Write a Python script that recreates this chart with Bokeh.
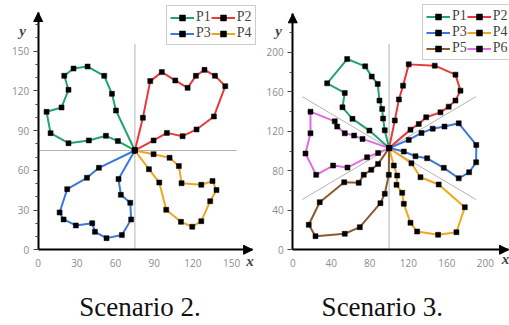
from bokeh.plotting import figure
from bokeh.models import Range1d, Legend, LegendItem, Label, Arrow, NormalHead, FixedTicker
from bokeh.layouts import row
from bokeh.embed import file_html
from bokeh.resources import INLINE

# ---------------- Scenario 2 data ----------------
s2_center = (75, 75)
s2_p1_x = [61.8, 52.5, 39.3, 23.5, 9.6, 6.5, 18.1, 23.5, 20.2, 27.4, 38.3, 51.2, 57.2, 60.3]
s2_p1_y = [82.1, 86.1, 82.6, 80.5, 88.1, 104.2, 107.5, 120.8, 131.4, 136.9, 138.4, 131.4, 117.8, 105.2]
s2_p2_x = [81.2, 86.9, 95.9, 106.3, 115.9, 122.3, 129.0, 137.1, 145.1, 136.3, 122.8, 112.0, 99.8, 89.5]
s2_p2_y = [99.7, 127.4, 134.2, 127.9, 122.3, 131.4, 135.9, 131.4, 123.6, 100.7, 90.9, 85.8, 88.3, 82.6]
s2_p3_x = [47.1, 37.8, 22.5, 16.6, 19.7, 29.2, 41.9, 44.0, 53.0, 64.9, 72.1, 71.4, 64.1, 62.3]
s2_p3_y = [61.9, 54.4, 45.8, 28.2, 22.9, 18.4, 20.1, 13.6, 8.8, 11.1, 22.9, 35.5, 41.5, 53.4]
s2_p4_x = [89.5, 101.9, 109.1, 111.2, 126.5, 135.2, 138.3, 133.4, 126.5, 119.5, 110.7, 99.3, 93.9, 85.9]
s2_p4_y = [72.2, 69.5, 63.2, 50.3, 49.1, 51.9, 45.1, 36.7, 21.6, 17.4, 21.1, 30.2, 50.8, 60.9]
s2_ref_x = [[75, 75], [0, 154]]
s2_ref_y = [[0, 155.5], [75, 75]]
s2_xticks = [0, 30, 60, 90, 120, 150]
s2_yticks = [0, 30, 60, 90, 120, 150]
s2_yminor = [10, 20, 40, 50, 70, 80, 100, 110, 130, 140, 160, 170]

# ---------------- Scenario 3 data ----------------
s3_center = (100, 103)
s3_p1_x = [79.6, 62.0, 51.6, 54.0, 35.7, 56.5, 75.2, 82.0, 88.2, 90.0, 92.8, 93.8, 95.5]
s3_p1_y = [120.7, 132.6, 144.3, 158.9, 168.6, 193.2, 185.8, 175.4, 168.0, 151.1, 142.7, 132.9, 121.0]
s3_p2_x = [105.9, 110.2, 114.5, 120.4, 147.4, 168.9, 174.1, 168.9, 161.9, 153.3, 138.5, 130.8, 122.2]
s3_p2_y = [131.0, 152.3, 166.2, 187.8, 186.5, 177.4, 161.2, 151.1, 145.0, 139.2, 134.2, 127.5, 121.7]
s3_p3_x = [115.3, 127.4, 139.5, 156.8, 172.3, 183.1, 190.4, 190.5, 172.3, 157.5, 145.3, 133.6, 120.4]
s3_p3_y = [99.5, 94.7, 92.7, 83.0, 72.4, 78.5, 88.6, 106.2, 128.1, 124.8, 122.7, 118.3, 111.3]
s3_p4_x = [104.9, 108.4, 107.7, 113.6, 115.3, 122.2, 129.1, 150.9, 169.9, 178.6, 151.5, 132.6, 123.2]
s3_p4_y = [85.3, 75.2, 65.8, 57.7, 46.5, 27.3, 18.5, 15.2, 17.8, 43.1, 66.1, 73.5, 87.6]
s3_p5_x = [88.6, 81.5, 73.7, 68.5, 53.4, 28.0, 16.6, 23.6, 54.0, 69.6, 91.0, 95.5, 99.7]
s3_p5_y = [87.0, 81.0, 76.0, 67.8, 68.4, 48.2, 25.3, 13.8, 16.2, 22.9, 47.2, 56.7, 75.9]
s3_p6_x = [72.4, 63.7, 54.0, 46.1, 43.6, 18.4, 18.4, 13.2, 24.3, 41.9, 56.8, 77.2, 88.6]
s3_p6_y = [112.3, 115.7, 118.0, 124.8, 130.1, 139.9, 118.0, 97.5, 75.9, 85.3, 83.3, 93.7, 98.1]
s3_ref_x = [[100, 100], [10, 190], [10, 190]]
s3_ref_y = [[0, 208.5], [155, 51], [51, 155]]
s3_xticks = [0, 40, 80, 120, 160, 200]
s3_yticks = [0, 40, 80, 120, 160, 200]
s3_yminor = [20, 60, 100, 140, 180, 220]

names = ["P1", "P2", "P3", "P4", "P5", "P6"]
colors = ["#23a46e", "#e83a3a", "#3a78dc", "#f0a51e", "#8b5a2e", "#e46ae4"]

TICK_FONT = "Open Sans"
SERIF = "Liberation Serif"
H = 325


def panel(width, xr, yr, tips, xticks, yticks, yminor, series, center, ref_x, ref_y,
          legend_loc, ylab_pos, xlab_pos, cap_pos, caption):
    p = figure(width=width, height=H, x_range=Range1d(*xr), y_range=Range1d(*yr),
               output_backend="svg", toolbar_location=None,
               min_border_left=0, min_border_right=0, min_border_top=0, min_border_bottom=0)
    p.grid.visible = False
    p.outline_line_color = None
    p.xaxis.ticker = FixedTicker(ticks=xticks)
    p.yaxis.ticker = FixedTicker(ticks=yticks, minor_ticks=yminor)
    p.xaxis.fixed_location = 0
    p.yaxis.fixed_location = 0
    p.xaxis.bounds = (0, tips[0])
    p.yaxis.bounds = (0, tips[1])
    for ax in (p.xaxis[0], p.yaxis[0]):
        ax.axis_line_width = 2
        ax.axis_line_color = "black"
        ax.major_tick_line_color = "#444444"
        ax.minor_tick_line_color = "#444444"
        ax.major_tick_in = 0
        ax.minor_tick_in = 0
        ax.major_label_text_font = TICK_FONT
        ax.major_label_text_font_size = "10px"
        ax.major_label_text_color = "#8c8c8c"
    p.yaxis.major_tick_out = 5
    p.yaxis.minor_tick_out = 3
    p.yaxis.major_label_standoff = 4
    p.xaxis.major_tick_out = 0
    p.xaxis.minor_tick_out = 0
    p.xaxis.major_label_standoff = 9

    for rx, ry in zip(ref_x, ref_y):
        p.line(rx, ry, line_color="#b4b4b4", line_width=1)

    rend = {}
    for (name, color, xs, ys) in series:
        px = [center[0]] + xs + [center[0]]
        py = [center[1]] + ys + [center[1]]
        lr = p.line(px, py, line_color=color, line_width=2)
        sr = p.scatter(px, py, marker="square", size=5, fill_color="black", line_color="black",
                       line_width=0.5)
        rend[name] = [lr, sr]

    # axis arrow heads
    p.add_layout(Arrow(end=NormalHead(size=9, fill_color="black", line_color="black"),
                       x_start=0, y_start=tips[1] - 5, x_end=0, y_end=tips[1], line_alpha=0))
    p.add_layout(Arrow(end=NormalHead(size=9, fill_color="black", line_color="black"),
                       x_start=tips[0] - 5, y_start=0, x_end=tips[0], y_end=0, line_alpha=0))

    # legend laid out column-major by Bokeh -> order so rows read P1 P2 / P3 P4 ...
    n = len(series)
    order = [s[0] for s in series[0::2]] + [s[0] for s in series[1::2]]
    items = [LegendItem(label=nm, renderers=rend[nm]) for nm in order]
    legend = Legend(items=items, ncols=2, location=legend_loc,
                    border_line_color="#999999", border_line_width=1,
                    padding=3, spacing=0, margin=0,
                    glyph_width=24, glyph_height=15, label_height=15, label_width=14,
                    label_standoff=2,
                    label_text_font=SERIF, label_text_font_size="14px")
    p.add_layout(legend)

    p.add_layout(Label(x=ylab_pos[0], y=ylab_pos[1], text="y", text_font=SERIF,
                       text_font_style="bold italic", text_font_size="15px",
                       text_align="center", text_baseline="middle"))
    p.add_layout(Label(x=xlab_pos[0], y=xlab_pos[1], text="x", text_font=SERIF,
                       text_font_style="bold italic", text_font_size="15px",
                       text_align="center", text_baseline="middle"))
    p.add_layout(Label(x=cap_pos[0], y=cap_pos[1], text=caption, text_font=SERIF,
                       text_font_size="27px", text_align="center", text_baseline="alphabetic",
                       text_color="#111111"))
    return p


s2_series = [(names[0], colors[0], s2_p1_x, s2_p1_y), (names[1], colors[1], s2_p2_x, s2_p2_y),
             (names[2], colors[2], s2_p3_x, s2_p3_y), (names[3], colors[3], s2_p4_x, s2_p4_y)]
s3_series = [(names[0], colors[0], s3_p1_x, s3_p1_y), (names[1], colors[1], s3_p2_x, s3_p2_y),
             (names[2], colors[2], s3_p3_x, s3_p3_y), (names[3], colors[3], s3_p4_x, s3_p4_y),
             (names[4], colors[4], s3_p5_x, s3_p5_y), (names[5], colors[5], s3_p6_x, s3_p6_y)]

p1 = panel(257, (-29.25, 170.1), (-57.2, 188.3), (166.3, 179.2),
           s2_xticks, s2_yticks, s2_yminor, s2_series, s2_center, s2_ref_x, s2_ref_y,
           (166, 280), (-12.2, 165.6), (164.3, -8.8), (79, -43.6), "Scenario 2.")
p2 = panel(252, (-36.6, 225.0), (-76.7, 252.5), (224, 239),
           s3_xticks, s3_yticks, s3_yminor, s3_series, s3_center, s3_ref_x, s3_ref_y,
           (165, 265), (-14.8, 222), (220.8, -9.5), (93, -58.4), "Scenario 3.")

layout = row(p1, p2)
open("out.html", "w").write(file_html(layout, INLINE))
